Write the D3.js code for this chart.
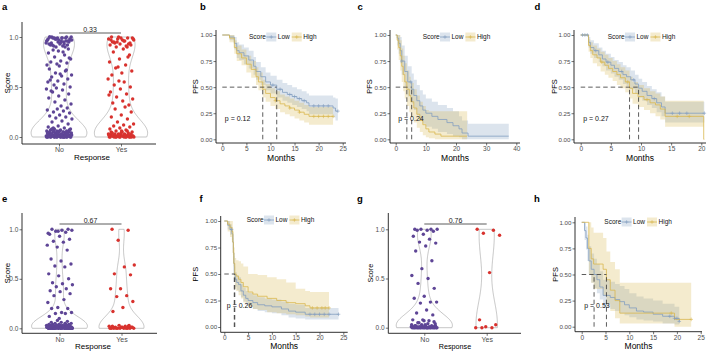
<!DOCTYPE html>
<html><head><meta charset="utf-8">
<script src="https://cdn.jsdelivr.net/npm/d3@7"></script>
<style>body{margin:0;background:#fff}svg{display:block}text{font-family:"Liberation Sans",Arial,Helvetica,sans-serif}</style>
</head><body><script>
// ---------------- DATA ----------------
const responseCats = ["No", "Yes"];
const scoreTicks = [0, 0.5, 1];
const pfsTicks = [0, 0.25, 0.5, 0.75, 1];
const groupNames = ["Low", "High"];
const legendTitle = "Score";

// Panel a
const aNo = [1.0,0.99,0.98,0.97,0.99,1.0,0.96,0.95,0.98,0.93,0.99,0.97,0.94,0.92,1.0,0.98,0.96,0.91,0.99,0.95,0.97,0.93,0.9,0.98,1.0,0.96,0.94,0.92,0.99,0.97,0.95,0.91,0.98,0.93,1.0,0.96,0.9,0.94,0.99,0.92,
  0.88,0.86,0.84,0.82,0.8,0.78,0.76,0.75,0.74,0.73,0.72,0.85,0.87,0.79,0.71,
  0.68,0.66,0.64,0.62,0.61,0.6,0.58,0.56,0.55,0.53,0.52,0.5,0.63,0.57,0.67,
  0.49,0.48,0.47,0.45,0.43,0.41,0.39,0.37,0.35,0.33,0.31,0.46,
  0.29,0.28,0.27,0.26,0.25,0.24,0.22,0.21,0.2,0.19,0.18,0.16,0.15,0.13,0.11,
  0.1,0.09,0.08,0.08,0.07,0.07,0.06,0.06,0.06,0.05,0.05,0.05,0.05,0.04,0.04,0.04,0.04,0.03,0.03,0.03,0.03,0.03,0.02,0.02,0.02,0.02,0.02,0.02,0.01,0.01,0.01,0.01,0.01,0.01,0.01,0,0,0,0,0,0,0,0,0,0.09,0.07,0.06,0.05,0.04,0.03,0.02,0.01,0.08,0.05,0.03,
  0,0,0,0,0,0,0,0,0,0,0.01,0.01,0.01,0.01,0.01,0.02,0.02,0.02,0.03,0.03,0.04,0.04,0.05,0.06,0.07];
const aYes = [1.0,0.99,0.98,0.97,0.96,0.95,0.94,0.93,0.92,0.91,0.9,0.99,0.97,0.95,0.93,1.0,0.98,0.96,0.94,0.92,0.99,0.97,0.9,0.95,0.98,
  0.88,0.85,0.82,0.78,0.75,0.72,0.69,0.66,0.64,0.62,0.8,0.7,
  0.58,0.55,0.52,0.5,0.48,0.45,0.43,0.4,0.38,0.36,0.34,0.32,0.56,0.42,0.3,
  0.28,0.25,0.22,0.2,0.18,0.15,0.13,0.12,0.11,0.1,
  0.09,0.08,0.07,0.06,0.05,0.05,0.04,0.04,0.03,0.03,0.03,0.02,0.02,0.02,0.02,0.01,0.01,0.01,0.01,0.01,0,0,0,0,0,0,0.06,0.04,0.02,0.01,
  0,0,0,0,0,0,0,0,0.01,0.01,0.01,0.01,0.02,0.02,0.02,0.03,0.03,0.04,0.05,0.06];
const aP = "0.33";

// Panel e
const eNo = [0,0,0,0,0,0,0,0,0,0,0,0,0,0,0,0.01,0.01,0.01,0.01,0.01,0.01,0.01,0.01,0.01,0.01,0.02,0.02,0.02,0.02,0.02,0.02,0.02,0.02,0.03,0.03,0.03,0.03,0.03,0.03,0.04,0.04,0.04,0.04,0.05,0.05,0.05,0.06,0.06,0.07,0.08,0.02,0.01,0,0,0.03,0.01,0.04,0.02,0,0.01,
  0,0,0,0,0,0,0,0,0.01,0.01,0.01,0.01,0.02,0.02,0.03,
  0.1,0.12,0.15,0.15,0.16,0.16,0.2,0.2,0.21,0.26,0.29,0.33,0.35,0.37,0.38,0.4,0.42,0.44,0.45,0.46,0.5,0.53,0.55,0.62,0.63,0.65,0.68,0.7,0.79,0.82,0.84,0.87,0.88,0.9,0.93,0.95,0.97,0.98,0.99,0.99,1.0,1.0,0.98,0.96];
const eYes = [1.0,0.99,0.89,0.64,0.62,0.55,0.54,0.4,0.4,0.33,0.32,0.27,0.21,0.17,0.03,0.03,0.02,0.02,0.01,0.01,0.01,0,0,0,0,0,0,0,0,0,0,0,0.01,0.01,0.02,0.02];
const eP = "0.67";

// Panel g
const gNo = [1,1,1,1,0.99,0.99,0.98,0.95,0.93,0.9,0.87,0.86,0.83,0.78,0.68,0.6,0.53,0.5,0.45,0.4,0.32,0.3,0.26,0.25,0.26,0.18,0.15,0.13,0.08,0.08,0.07,0.05,0.04,0.03,0.02,0.01,0.01,0.01,0,0,0,0,0,0,0,0,
  0,0,0,0,0,0,0,0,0,0,0,0,0,0,0.01,0.01,0.01,0.01,0.01,0.01,0.02,0.02,0.02,0.02,0.03,0.03,0.04,0.05,0.06,0.07];
const gYes = [1,0.99,0.96,0.94,0.56,0.08,0.03,0.01,0,0,0];
const gP = "0.76";

// Panel b (KM)
const bTicks = [0,5,10,15,20,25];
const bLowT = [0,1.5,2.5,3,3.5,4.5,5.5,6.5,7,8,9,10,11.3,12.5,13.5,14.5,15.5,16.5,17.5,18,23,23.5];
const bLowS = [1,0.98,0.92,0.85,0.83,0.8,0.76,0.7,0.65,0.6,0.55,0.52,0.48,0.45,0.43,0.41,0.39,0.37,0.35,0.32,0.3,0.27];
const bLowL = [1,0.95,0.86,0.78,0.76,0.72,0.68,0.62,0.57,0.52,0.47,0.44,0.4,0.37,0.35,0.33,0.31,0.29,0.27,0.24,0.21,0.18];
const bLowU = [1,1,0.98,0.93,0.91,0.88,0.85,0.79,0.74,0.69,0.64,0.61,0.57,0.54,0.52,0.5,0.48,0.46,0.44,0.42,0.4,0.39];
const bLowCens = [10.5,12,14,15,16,17,19,20,21,22,24];
const bLowEnd = 24;
const bHighT = [0,1.5,2.5,3,4,5,6,7,7.5,8.4,9,10,11,12,13,14,15,16,17,18];
const bHighS = [1,0.97,0.88,0.82,0.78,0.72,0.67,0.6,0.55,0.48,0.44,0.4,0.37,0.34,0.32,0.3,0.28,0.26,0.24,0.22];
const bHighL = [1,0.93,0.82,0.75,0.71,0.64,0.59,0.52,0.47,0.4,0.36,0.32,0.29,0.26,0.24,0.22,0.2,0.18,0.16,0.14];
const bHighU = [1,1,0.95,0.9,0.86,0.8,0.75,0.69,0.64,0.57,0.53,0.49,0.46,0.43,0.41,0.39,0.37,0.35,0.33,0.31];
const bHighCens = [11,14,16,19,20,21,22,23];
const bHighEnd = 23;
const bP = "p = 0.12";

// Panel c (KM)
const cTicks = [0,10,20,30,40];
const cLowT = [0,0.5,1,1.5,2,3,4,5.3,6,7,8,9,10,12,14,17,19,21,22,24];
const cLowS = [1,0.97,0.92,0.85,0.75,0.65,0.55,0.48,0.42,0.37,0.32,0.28,0.25,0.22,0.19,0.16,0.13,0.1,0.06,0.03];
const cLowL = [1,0.9,0.82,0.73,0.62,0.51,0.41,0.34,0.28,0.23,0.19,0.15,0.12,0.1,0.07,0.05,0.03,0.02,0,0];
const cLowU = [1,1,1,0.98,0.9,0.8,0.7,0.63,0.57,0.52,0.47,0.43,0.39,0.36,0.33,0.3,0.27,0.22,0.18,0.15];
const cLowCens = [2,5];
const cLowEnd = 37.5;
const cHighT = [0,0.5,1,1.5,2,2.5,3,3.7,4.5,5,6,7,8,9,10,11,13,15];
const cHighS = [1,0.95,0.88,0.8,0.7,0.62,0.55,0.48,0.42,0.36,0.3,0.24,0.18,0.14,0.1,0.07,0.05,0.03];
const cHighL = [1,0.86,0.76,0.66,0.55,0.46,0.39,0.32,0.26,0.21,0.16,0.11,0.07,0.04,0.02,0.01,0,0];
const cHighU = [1,1,1,0.95,0.87,0.8,0.73,0.66,0.6,0.54,0.48,0.42,0.36,0.32,0.28,0.27,0.27,0.27];
const cHighCens = [];
const cHighEnd = 23.7;
const cP = "p = 0.24";

// Panel d (KM)
const dTicks = [0,5,10,15,20];
const dLowT = [0,1.3,1.6,2.2,3,3.6,4.2,5,5.6,6.3,7,7.6,8.3,9,9.6,10.2,11,11.8,12.6,13.4,14];
const dLowS = [1,0.93,0.88,0.85,0.81,0.77,0.74,0.71,0.68,0.65,0.62,0.6,0.57,0.53,0.49,0.46,0.42,0.39,0.35,0.31,0.25];
const dLowL = [1,0.88,0.82,0.78,0.74,0.7,0.66,0.63,0.6,0.57,0.53,0.51,0.48,0.44,0.4,0.37,0.33,0.3,0.26,0.22,0.16];
const dLowU = [1,0.98,0.95,0.92,0.88,0.85,0.82,0.79,0.76,0.74,0.71,0.69,0.66,0.62,0.58,0.55,0.51,0.48,0.45,0.41,0.36];
const dLowCens = [0.3,0.7,1.1,2.5,4.5,6.8,8.8,12.2,15.2,16.4,17.6,20.5];
const dLowEnd = 20.5;
const dHighT = [0,1.3,1.6,2,2.7,3.3,4,4.6,5.3,6,6.6,7.4,8.1,8.6,9.5,10.5,11.5,12.4,13.2,14,20.4];
const dHighS = [1,0.9,0.85,0.81,0.78,0.74,0.71,0.68,0.65,0.62,0.59,0.55,0.49,0.44,0.41,0.38,0.35,0.33,0.29,0.22,0];
const dHighL = [1,0.84,0.78,0.73,0.7,0.65,0.62,0.59,0.56,0.52,0.49,0.45,0.39,0.34,0.31,0.28,0.25,0.22,0.19,0.12,0];
const dHighU = [1,0.96,0.93,0.9,0.87,0.84,0.81,0.78,0.75,0.72,0.69,0.66,0.6,0.55,0.52,0.49,0.46,0.44,0.41,0.37,0];
const dHighCens = [3.5,7.8,11,16,18];
const dHighEnd = 20.5;
const dP = "p = 0.27";

// Panel f (KM)
const fTicks = [0,5,10,15,20,25];
const fLowT = [0,0.7,1.2,1.6,1.8,1.9,2.0,2.1,2.3,2.6,3,3.5,4,4.5,5,6,7,8.5,10,12,13.5,15,17];
const fLowS = [1,0.96,0.92,0.88,0.8,0.7,0.6,0.5,0.45,0.42,0.4,0.34,0.3,0.27,0.25,0.23,0.21,0.2,0.19,0.17,0.15,0.14,0.12];
const fLowL = [1,0.92,0.87,0.82,0.73,0.63,0.53,0.43,0.38,0.35,0.33,0.28,0.24,0.21,0.19,0.17,0.15,0.14,0.13,0.11,0.09,0.08,0.07];
const fLowU = [1,1,0.97,0.94,0.87,0.77,0.67,0.57,0.52,0.49,0.47,0.41,0.37,0.34,0.32,0.3,0.28,0.27,0.26,0.24,0.22,0.21,0.18];
const fLowCens = [1.5,18,19,20,21,22,24];
const fLowEnd = 24;
const fHighT = [0,0.7,1.2,1.6,1.8,1.9,2.0,2.2,2.5,3,3.5,4,5,6,7,9,11,13,15,17,18];
const fHighS = [1,0.97,0.94,0.9,0.8,0.7,0.6,0.5,0.48,0.45,0.42,0.38,0.33,0.31,0.29,0.27,0.25,0.23,0.22,0.2,0.18];
const fHighL = [1,0.9,0.85,0.8,0.68,0.57,0.46,0.36,0.34,0.3,0.27,0.23,0.19,0.17,0.16,0.14,0.13,0.12,0.11,0.1,0.09];
const fHighU = [1,1,1,1,0.93,0.84,0.75,0.65,0.63,0.62,0.6,0.57,0.5,0.5,0.49,0.47,0.45,0.42,0.36,0.34,0.33];
const fHighCens = [18.5,19.5,20.5,21.2,22];
const fHighEnd = 22;
const fP = "p = 0.26";

// Panel h (KM)
const hTicks = [0,5,10,15,20,25];
const hLowT = [0,0.6,0.9,1.2,1.5,2,2.6,3.2,3.8,4.5,6,7,8,9,10,11.5,13,15,17,19.5,20.5];
const hLowS = [1,0.92,0.85,0.75,0.63,0.55,0.5,0.45,0.38,0.3,0.28,0.26,0.24,0.21,0.18,0.15,0.14,0.12,0.1,0.08,0.05];
const hLowL = [1,0.83,0.74,0.63,0.5,0.42,0.37,0.32,0.26,0.19,0.17,0.15,0.13,0.11,0.09,0.07,0.06,0.05,0.03,0.02,0.01];
const hLowU = [1,1,0.96,0.88,0.77,0.7,0.65,0.6,0.53,0.45,0.43,0.41,0.39,0.36,0.32,0.29,0.27,0.25,0.22,0.19,0.15];
const hLowCens = [18.5,19.5,20,20.5];
const hLowEnd = 20.5;
const hHighT = [0,1.5,2,2.5,4.5,5.2,6,7,8,19.5];
const hHighS = [1,0.75,0.65,0.6,0.55,0.45,0.35,0.25,0.13,0.07];
const hHighL = [1,0.5,0.42,0.36,0.3,0.22,0.15,0.08,0.03,0];
const hHighU = [1,1,0.95,0.9,0.85,0.72,0.62,0.55,0.42,0.42];
const hHighCens = [18.8,23];
const hHighEnd = 23;
const hP = "p = 0.53";

// ---------------- DRAWING ----------------
const COL = {no:"#5e4596", yes:"#d8322e", low:"#839ec0", high:"#d9b74f", violin:"#a0a0a0", axis:"#1a1a1a", tick:"#333", tickText:"#4d4d4d"};
const svg = d3.select("body").append("svg").attr("width",708).attr("height",352);

function nrd0(v){
  const s = v.slice().sort(d3.ascending);
  const sd = d3.deviation(s);
  const iqr = d3.quantile(s,0.75) - d3.quantile(s,0.25);
  let lo = Math.min(sd, iqr/1.34);
  if (!(lo > 0)) lo = sd || 1;
  return 0.9 * lo * Math.pow(s.length, -0.2);
}
const gauss = u => Math.exp(-0.5*u*u)/Math.sqrt(2*Math.PI);
const jitter = j => (((j*0.6180339887 + 0.137) % 1) * 2 - 1);

function panelLabel(txt, x, y){
  svg.append("text").attr("x",x).attr("y",y).text(txt)
    .style("font-size","9.5px").style("font-weight","bold").attr("fill","#000");
}
function styleAxis(sel, fs){
  sel.select(".domain").remove();
  sel.selectAll(".tick line").attr("stroke",COL.tick).attr("stroke-width",0.7);
  sel.selectAll(".tick text").attr("fill",COL.tickText).style("font-size",fs+"px").style("font-family",'"Liberation Sans",Arial,sans-serif');
}
function axisLines(g, L){
  g.append("line").attr("x1",L.xl).attr("x2",L.xl).attr("y1",L.yt).attr("y2",L.ay).attr("stroke",COL.axis).attr("stroke-width",0.9);
  g.append("line").attr("x1",L.xl).attr("x2",L.xr).attr("y1",L.ay).attr("y2",L.ay).attr("stroke",COL.axis).attr("stroke-width",0.9);
}

function violinPanel(L, noVals, yesVals, pText){
  const g = svg.append("g");
  const x = d3.scalePoint().domain(responseCats).range([L.xNo, L.xYes]);
  const y = d3.scaleLinear().domain([0,1]).range([L.y0, L.y1]);
  const groups = [noVals, yesVals];
  const spacing = L.xYes - L.xNo;
  const dens = groups.map(v => {
    const h = nrd0(v), lo = d3.min(v), hi = d3.max(v);
    return d3.range(0,121).map(i => { const t = lo + (hi-lo)*i/120; return [t, d3.mean(v, d => gauss((t-d)/h))/h]; });
  });
  const maxD = d3.max(dens, d => d3.max(d, p => p[1]));
  const w = d3.scaleLinear().domain([0,maxD]).range([0, 0.45*spacing]);
  dens.forEach((d,i) => {
    const cx = x(responseCats[i]);
    const pts = d.map(p => [cx - w(p[1]), y(p[0])]).concat(d.slice().reverse().map(p => [cx + w(p[1]), y(p[0])]));
    g.append("path").attr("d", d3.line()(pts) + "Z").attr("fill","none").attr("stroke",COL.violin).attr("stroke-width",0.6);
  });
  groups.forEach((v,i) => {
    const cx = x(responseCats[i]);
    g.selectAll(null).data(v).enter().append("circle")
      .attr("cx",(d,j) => cx + jitter(j)*0.21*spacing)
      .attr("cy", d => y(d)).attr("r",1.7)
      .attr("fill", i ? COL.yes : COL.no);
  });
  axisLines(g, L);
  const ya = g.append("g").attr("transform",`translate(${L.xl},0)`)
    .call(d3.axisLeft(y).tickValues(scoreTicks).tickFormat(d3.format(".1f")).tickSize(2.5).tickSizeOuter(0).tickPadding(1.2));
  styleAxis(ya, 6.5);
  const xa = g.append("g").attr("transform",`translate(0,${L.ay})`)
    .call(d3.axisBottom(x).tickSize(2.5).tickSizeOuter(0).tickPadding(1));
  styleAxis(xa, 7);
  g.append("line").attr("x1",x("No")).attr("x2",x("Yes")).attr("y1",L.by).attr("y2",L.by).attr("stroke","#333").attr("stroke-width",0.8);
  g.append("text").attr("x",(x("No")+x("Yes"))/2).attr("y",L.by-1.5).attr("text-anchor","middle").text(pText).style("font-size","7px").attr("fill","#222");
  g.append("text").attr("transform",`translate(${L.scoreX},${(L.yt+L.ay)/2}) rotate(-90)`).attr("dy","0.35em").attr("text-anchor","middle").text("Score").style("font-size",L.ts+"px");
  g.append("text").attr("x",L.respX).attr("y",L.respY).attr("text-anchor","middle").text("Response").style("font-size",L.ts+"px");
  panelLabel(L.label, L.lx, L.ly);
}

function kmPanel(L, curves, ticks, pText){
  const g = svg.append("g");
  const x = d3.scaleLinear().domain([0, d3.max(ticks)]).range([L.x0, L.xm]);
  const y = d3.scaleLinear().domain([0,1]).range([L.y0, L.y1]);
  const data = curves.map(c => {
    const pts = c.t.map((t,i) => ({t, s:c.s[i], l:c.l[i], u:c.u[i]}));
    const last = pts[pts.length-1];
    pts.push({t:c.end, s:last.s, l:last.l, u:last.u});
    return {...c, pts};
  });
  const area = d3.area().curve(d3.curveStepAfter).x(d => x(d.t)).y0(d => y(d.l)).y1(d => y(d.u));
  const line = d3.line().curve(d3.curveStepAfter).x(d => x(d.t)).y(d => y(d.s));
  data.forEach(c => g.append("path").attr("d",area(c.pts)).attr("fill",c.color).attr("fill-opacity",0.28));
  data.forEach(c => g.append("path").attr("d",line(c.pts)).attr("fill","none").attr("stroke",c.color).attr("stroke-width",0.8));
  const plus = (px,py,color,sz) => {
    g.append("path").attr("d",`M${px-sz},${py}H${px+sz}M${px},${py-sz}V${py+sz}`).attr("stroke",color).attr("stroke-width",0.6).attr("fill","none");
  };
  data.forEach(c => c.cens.forEach(ct => {
    const idx = Math.max(0, d3.bisectRight(c.t, ct) - 1);
    plus(x(ct), y(c.s[idx]), c.color, 1.8);
  }));
  const meds = data.map(c => { const i = c.s.findIndex(v => v <= 0.5); return i >= 0 ? c.t[i] : null; }).filter(v => v !== null);
  const dash = "4.5,3";
  if (meds.length) {
    g.append("line").attr("x1",x(0)).attr("x2",x(d3.max(meds))).attr("y1",y(0.5)).attr("y2",y(0.5)).attr("stroke","#333").attr("stroke-width",0.8).attr("stroke-dasharray",dash);
    meds.forEach(m => g.append("line").attr("x1",x(m)).attr("x2",x(m)).attr("y1",y(0)).attr("y2",y(0.5)).attr("stroke","#333").attr("stroke-width",0.8).attr("stroke-dasharray",dash));
  }
  g.append("text").attr("x",x(0)+2.5).attr("y",y(0.2)).attr("dy","0.35em").text(pText).style("font-size","7px").attr("fill","#111");
  axisLines(g, L);
  const ya = g.append("g").attr("transform",`translate(${L.xl},0)`)
    .call(d3.axisLeft(y).tickValues(pfsTicks).tickFormat(d3.format(".2f")).tickSize(2.5).tickSizeOuter(0).tickPadding(1));
  styleAxis(ya, 6.2);
  const xa = g.append("g").attr("transform",`translate(0,${L.ay})`)
    .call(d3.axisBottom(x).tickValues(ticks).tickFormat(d3.format("d")).tickSize(2.5).tickSizeOuter(0).tickPadding(1));
  styleAxis(xa, 6.5);
  g.append("text").attr("transform",`translate(${L.pfsX},${(L.yt+L.ay)/2}) rotate(-90)`).attr("dy","0.35em").attr("text-anchor","middle").text("PFS").style("font-size","7.5px");
  g.append("text").attr("x",(L.xl+L.xr)/2).attr("y",L.my).attr("text-anchor","middle").text("Months").style("font-size","8.5px");
  let lx = L.legX;
  const ly = L.legY;
  const t0 = g.append("text").attr("x",lx).attr("y",ly).attr("dy","0.35em").text(legendTitle).style("font-size","6.5px").attr("fill","#111");
  lx += t0.node().getComputedTextLength() + 0.3;
  data.forEach(c => {
    g.append("rect").attr("x",lx).attr("y",ly-4.5).attr("width",10).attr("height",9).attr("fill",c.color).attr("fill-opacity",0.28);
    g.append("line").attr("x1",lx).attr("x2",lx+10).attr("y1",ly).attr("y2",ly).attr("stroke",c.color).attr("stroke-width",0.8);
    plus(lx+5, ly, c.color, 1.8);
    lx += 11.5;
    const t = g.append("text").attr("x",lx).attr("y",ly).attr("dy","0.35em").text(c.name).style("font-size","6.5px").attr("fill","#111");
    lx += t.node().getComputedTextLength() + 2;
  });
  panelLabel(L.label, L.lx, L.ly);
}

function curvesOf(lowT,lowS,lowL,lowU,lowC,lowE,highT,highS,highL,highU,highC,highE){
  return [
    {name:groupNames[0], color:COL.low, t:lowT, s:lowS, l:lowL, u:lowU, cens:lowC, end:lowE},
    {name:groupNames[1], color:COL.high, t:highT, s:highS, l:highL, u:highU, cens:highC, end:highE}
  ];
}

violinPanel({xl:22,xr:156,xNo:59,xYes:121,y0:137,y1:37,ay:144,yt:22,by:33,scoreX:7,respX:92,respY:159.5,ts:8,label:"a",lx:2,ly:10}, aNo, aYes, aP);
violinPanel({xl:22,xr:157,xNo:59.5,xYes:121.5,y0:328.3,y1:229.3,ay:333.3,yt:213,by:224,scoreX:7,respX:93,respY:348.5,ts:8,label:"e",lx:2,ly:201.5}, eNo, eYes, eP);
violinPanel({xl:388.3,xr:521,xNo:424.3,xYes:486.7,y0:327.7,y1:229.3,ay:333.3,yt:213,by:224,scoreX:370.5,respX:455,respY:348.5,ts:7.2,label:"g",lx:357,ly:201.5}, gNo, gYes, gP);

kmPanel({xl:216,xr:346,x0:222.3,xm:342.7,y0:139.3,y1:35,ay:143,yt:30,pfsX:195.8,my:160.5,legX:249,legY:37,label:"b",lx:200,ly:10},
  curvesOf(bLowT,bLowS,bLowL,bLowU,bLowCens,bLowEnd,bHighT,bHighS,bHighL,bHighU,bHighCens,bHighEnd), bTicks, bP);
kmPanel({xl:390,xr:520,x0:395.7,xm:516.3,y0:139.3,y1:35,ay:143,yt:30,pfsX:369,my:160.5,legX:422.7,legY:37,label:"c",lx:357.5,ly:10},
  curvesOf(cLowT,cLowS,cLowL,cLowU,cLowCens,cLowEnd,cHighT,cHighS,cHighL,cHighU,cHighCens,cHighEnd), cTicks, cP);
kmPanel({xl:574,xr:706,x0:580.7,xm:701.3,y0:139.3,y1:35,ay:143,yt:30,pfsX:554,my:160.5,legX:607.7,legY:37,label:"d",lx:534.5,ly:10},
  curvesOf(dLowT,dLowS,dLowL,dLowU,dLowCens,dLowEnd,dHighT,dHighS,dHighL,dHighU,dHighCens,dHighEnd), dTicks, dP);
kmPanel({xl:220.7,xr:347.7,x0:224.3,xm:343.3,y0:327,y1:221,ay:332.3,yt:216,pfsX:195.8,my:348.5,legX:246.7,legY:220,label:"f",lx:199.5,ly:201.5},
  curvesOf(fLowT,fLowS,fLowL,fLowU,fLowCens,fLowEnd,fHighT,fHighS,fHighL,fHighU,fHighCens,fHighEnd), fTicks, fP);
kmPanel({xl:575,xr:702,x0:581.7,xm:700.7,y0:326.7,y1:222.3,ay:331.7,yt:217,pfsX:555,my:348.5,legX:604.3,legY:222,label:"h",lx:534,ly:201.5},
  curvesOf(hLowT,hLowS,hLowL,hLowU,hLowCens,hLowEnd,hHighT,hHighS,hHighL,hHighU,hHighCens,hHighEnd), hTicks, hP);
</script></body></html>
